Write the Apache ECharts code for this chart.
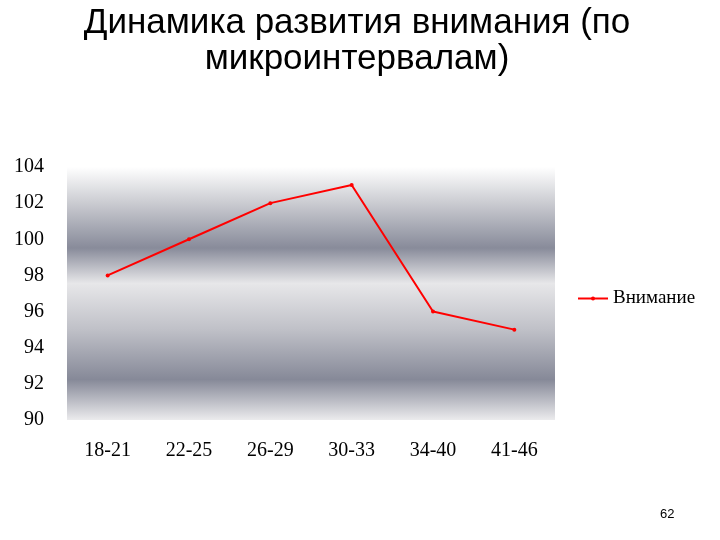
<!DOCTYPE html>
<html>
<head>
<meta charset="utf-8">
<script src="https://cdn.jsdelivr.net/npm/echarts@6/dist/echarts.min.js"></script>
<style>
  html, body { margin: 0; padding: 0; background: #fff; }
  #chart { width: 720px; height: 540px; }
</style>
</head>
<body>
<div id="chart"></div>
<script>
// данные графика
const ageGroups = ['18-21', '22-25', '26-29', '30-33', '34-40', '41-46']
const attention = [98, 100, 102, 103, 96, 95]
const seriesName = 'Внимание'
const titleText = 'Динамика развития внимания (по\nмикроинтервалам)'
const pageNumber = '62'

const chart = echarts.init(document.getElementById('chart'))

// полосатый серый фон области построения
const plotBg = new echarts.graphic.LinearGradient(0, 0, 0, 1, [
  { offset: 0, color: '#ffffff' },
  { offset: 0.13, color: '#cfd0d5' },
  { offset: 0.32, color: '#888b9a' },
  { offset: 0.46, color: '#e7e7e9' },
  { offset: 0.64, color: '#c0c1c8' },
  { offset: 0.84, color: '#868998' },
  { offset: 1, color: '#ebebed' }
])

const labelFont = {
  fontFamily: 'Liberation Serif',
  fontSize: 20,
  color: '#000'
}

chart.setOption({
  animation: false,
  legend: {
    data: [seriesName],
    left: 572,
    top: 284,
    itemWidth: 30,
    itemHeight: 5,
    itemGap: 6,
    textStyle: { fontFamily: 'Liberation Serif', fontSize: 19, color: '#000' }
  },
  grid: {
    left: 67,
    right: 165,
    top: 167,
    bottom: 120,
    show: true,
    borderWidth: 0,
    backgroundColor: plotBg
  },
  xAxis: {
    type: 'category',
    data: ageGroups,
    boundaryGap: true,
    axisLine: { show: false },
    axisTick: { show: false },
    axisLabel: Object.assign({ margin: 21 }, labelFont)
  },
  yAxis: {
    type: 'value',
    min: 90,
    max: 104,
    interval: 2,
    axisLine: { show: false },
    axisTick: { show: false },
    splitLine: { show: false },
    axisLabel: Object.assign({ margin: 23 }, labelFont)
  },
  graphic: [
    {
      type: 'text',
      x: 357,
      y: 5,
      style: {
        text: titleText,
        align: 'center',
        fontFamily: 'Liberation Sans',
        fontSize: 35,
        lineHeight: 36,
        fill: '#000'
      }
    },
    {
      type: 'text',
      left: 660,
      top: 508,
      style: {
        text: pageNumber,
        fontFamily: 'Liberation Sans',
        fontSize: 13,
        fill: '#000'
      }
    }
  ],
  series: [
    {
      name: seriesName,
      type: 'line',
      data: attention,
      symbol: 'circle',
      symbolSize: 4,
      itemStyle: { color: '#ff0000' },
      lineStyle: { color: '#ff0000', width: 2 }
    }
  ]
})
</script>
</body>
</html>
